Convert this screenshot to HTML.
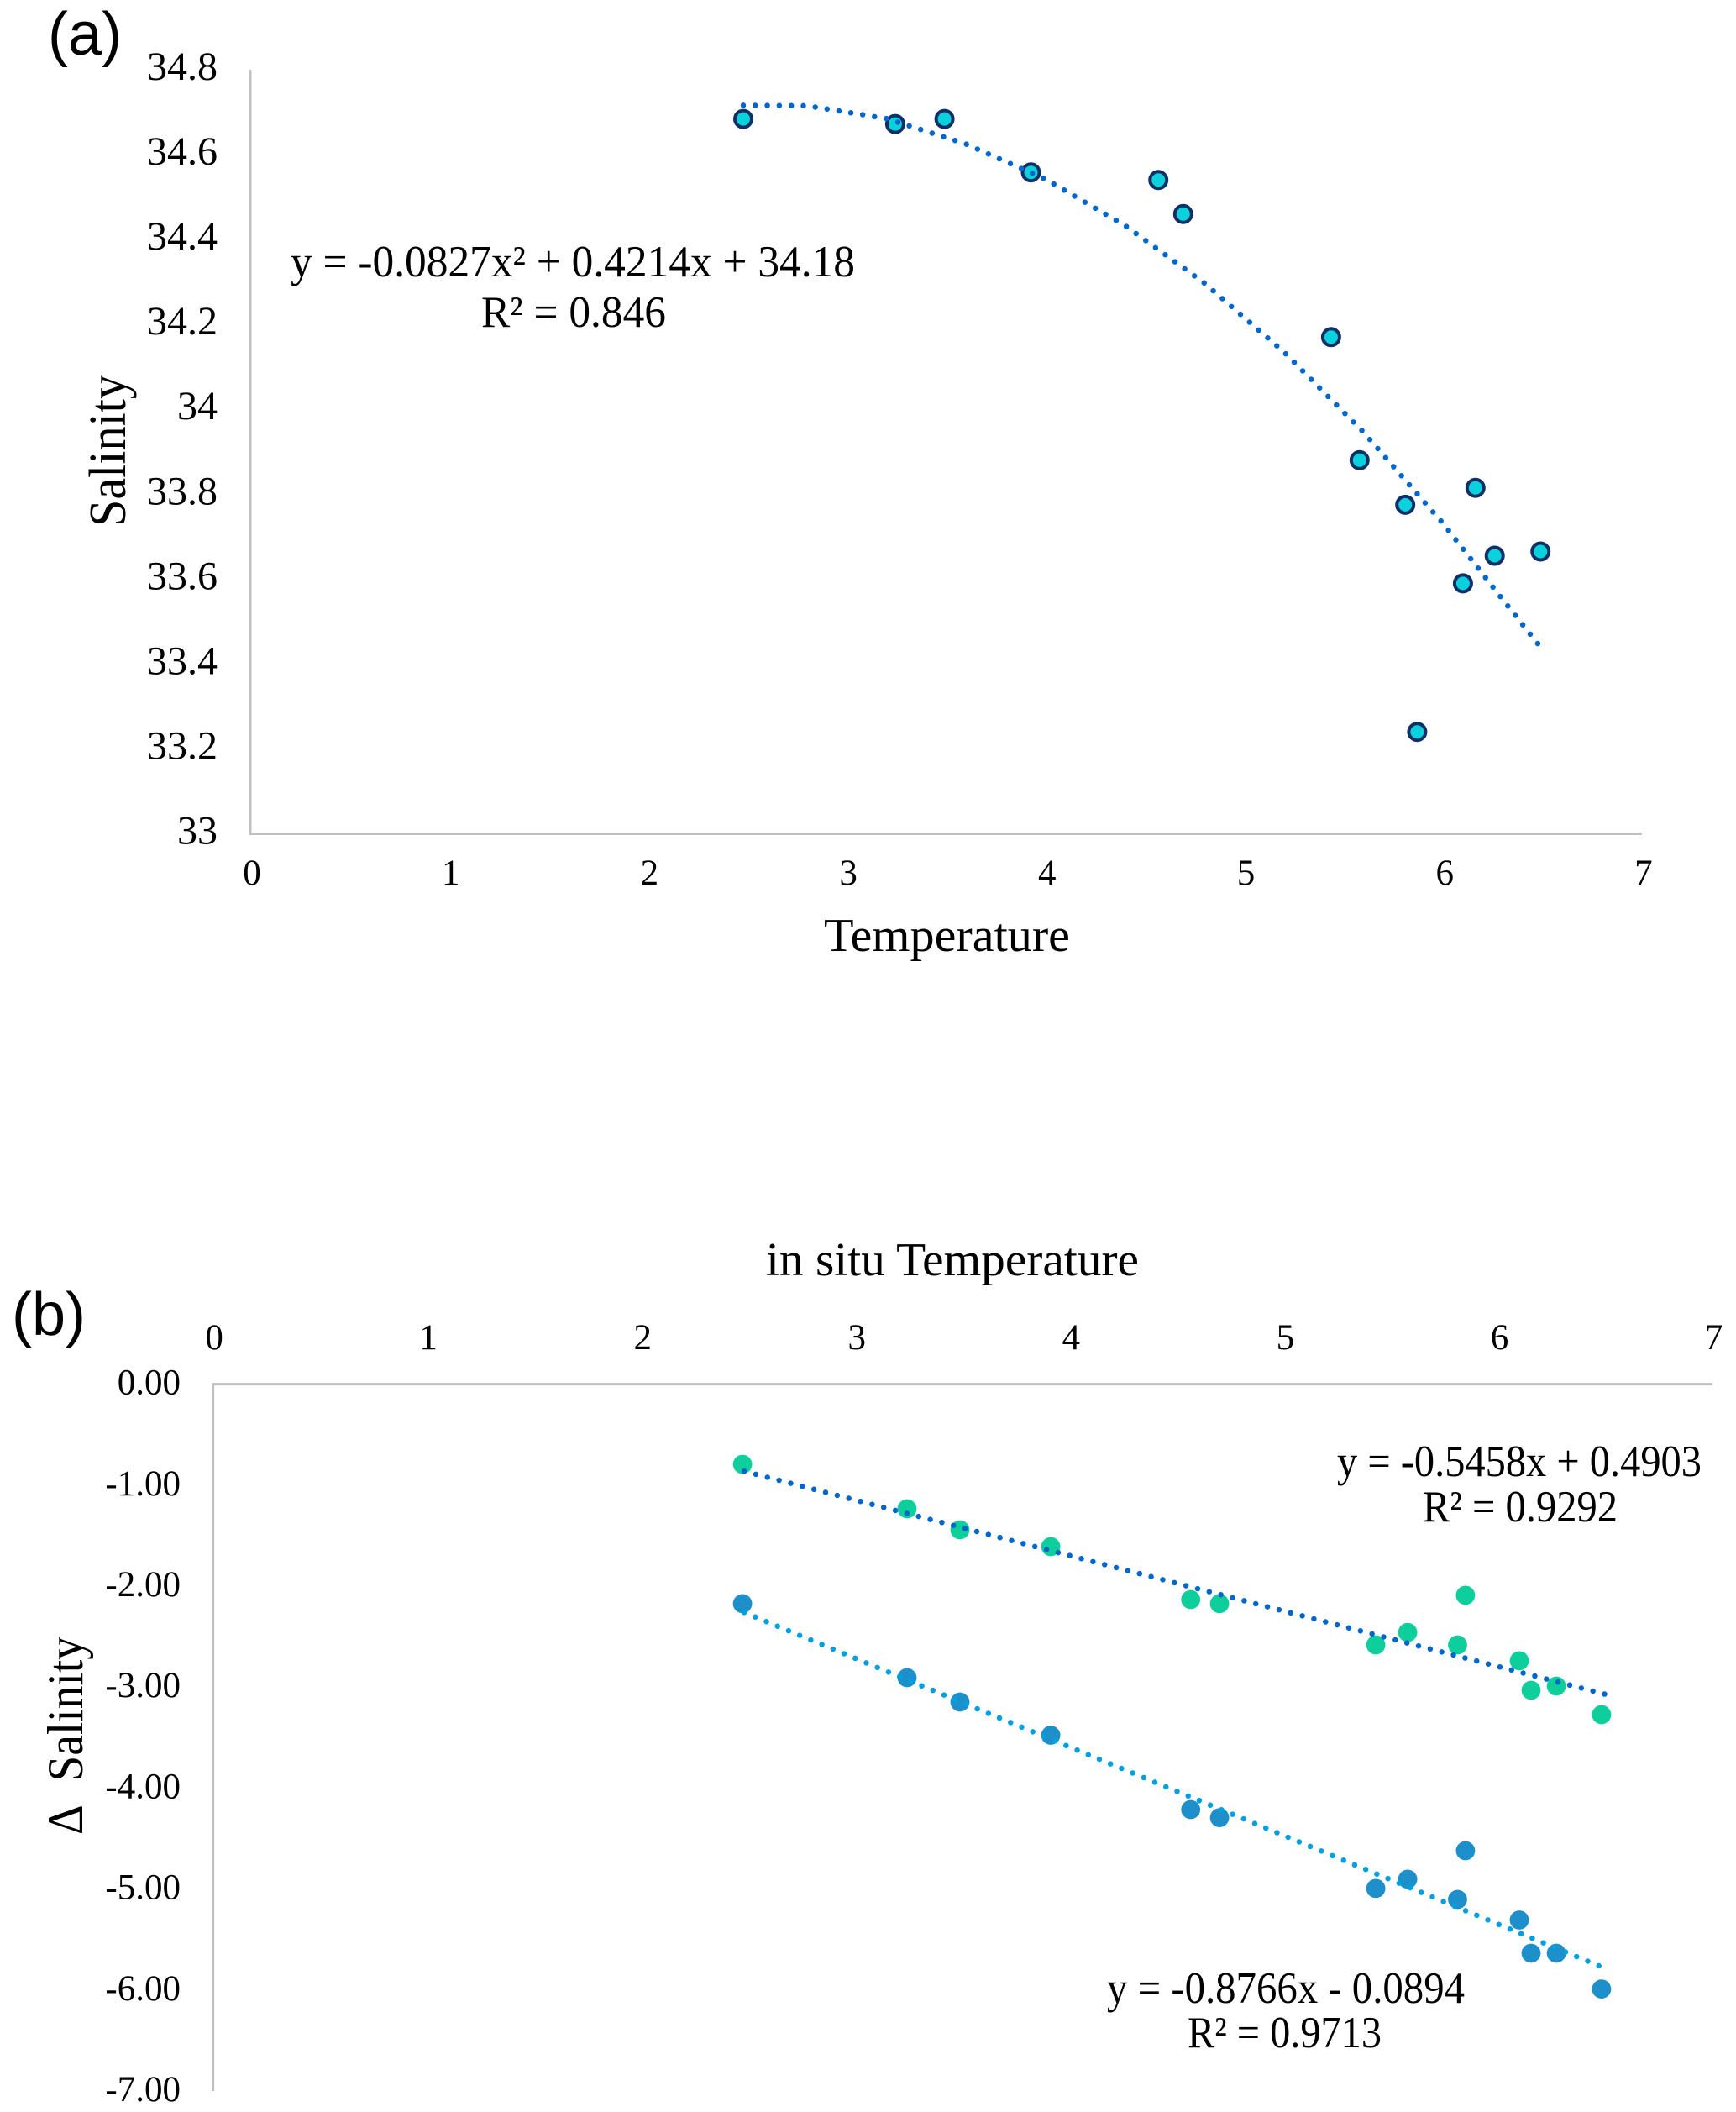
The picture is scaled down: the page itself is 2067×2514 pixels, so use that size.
<!DOCTYPE html>
<html lang="en">
<head>
<meta charset="utf-8">
<title>Salinity versus temperature charts</title>
<style>
html,body{margin:0;padding:0;background:#fff;width:2067px;height:2514px;overflow:hidden}
svg{display:block}
text{font-family:"Liberation Serif",serif;fill:#000}
.panel{font-family:"Liberation Sans",sans-serif;font-size:72px}
.eq{font-size:53px}
.title{font-size:56px}
</style>
</head>
<body>
<svg id="figure" xmlns="http://www.w3.org/2000/svg" width="2067" height="2514" viewBox="0 0 2067 2514">
  <rect x="0" y="0" width="2067" height="2514" fill="#ffffff"/>

  <g id="chart-a">
    <text class="panel" x="57" y="65">(a)</text>
    <text class="title" x="981" y="1132" textLength="293" lengthAdjust="spacingAndGlyphs">Temperature</text>
    <text transform="translate(149 627) rotate(-90)" x="0" y="0" font-size="62" textLength="181" lengthAdjust="spacingAndGlyphs">Salinity</text>
    <text class="eq" x="346" y="329" textLength="672" lengthAdjust="spacingAndGlyphs">y = -0.0827x² + 0.4214x + 34.18</text>
    <text class="eq" x="573" y="389" textLength="220" lengthAdjust="spacingAndGlyphs">R² = 0.846</text>
  </g>

  <g id="chart-b">
    <text class="panel" x="14" y="1589">(b)</text>
    <text class="title" x="912" y="1518" textLength="444" lengthAdjust="spacingAndGlyphs">in situ Temperature</text>
    <text transform="translate(98 2184) rotate(-90)" x="0" y="0" font-size="60" textLength="236" lengthAdjust="spacingAndGlyphs">Δ&#160;&#160;Salinity</text>
    <text class="eq" x="1592" y="1757" textLength="434" lengthAdjust="spacingAndGlyphs">y = -0.5458x + 0.4903</text>
    <text class="eq" x="1694" y="1811" textLength="232" lengthAdjust="spacingAndGlyphs">R² = 0.9292</text>
    <text class="eq" x="1318" y="2384" textLength="426" lengthAdjust="spacingAndGlyphs">y = -0.8766x - 0.0894</text>
    <text class="eq" x="1414" y="2437" textLength="231" lengthAdjust="spacingAndGlyphs">R² = 0.9713</text>
  </g>
</svg>

<script>
// Chart (a) data
var xTickLabelsA = ['0','1','2','3','4','5','6','7'];
var yTickLabelsA = ['34.8','34.6','34.4','34.2','34','33.8','33.6','33.4','33.2','33'];
var temperatureA = [2.48,3.244,3.492,3.927,4.568,4.693,5.437,5.58,5.81,6.163,6.26,6.1,6.49,5.87];
var salinityA = [34.684,34.672,34.684,34.558,34.54,34.46,34.17,33.88,33.775,33.815,33.655,33.59,33.665,33.24];
var trendTemperatureA = [2.48,2.8,3.2,3.6,4.0,4.4,4.8,5.2,5.6,6.0,6.3,6.49];
var trendSalinityA = [34.716,34.715,34.685,34.625,34.542,34.433,34.297,34.135,33.946,33.731,33.552,33.44];

// Chart (b) data
var xTickLabelsB = ['0','1','2','3','4','5','6','7'];
var yTickLabelsB = ['0.00','-1.00','-2.00','-3.00','-4.00','-5.00','-6.00','-7.00'];
var temperatureB = [2.472,3.24,3.487,3.911,4.564,4.699,5.428,5.577,5.847,5.81,6.098,6.153,6.271,6.482];
var deltaUpperB = [-0.794,-1.235,-1.443,-1.609,-2.133,-2.174,-2.582,-2.458,-2.091,-2.582,-2.74,-3.032,-2.99,-3.273];
var deltaLowerB = [-2.174,-2.907,-3.148,-3.477,-4.213,-4.293,-4.994,-4.903,-4.621,-5.103,-5.307,-5.636,-5.636,-5.99];
var trendTemperatureUpperB = [2.48,6.497];
var trendDeltaUpperB = [-0.863,-3.07];
var trendTemperatureLowerB = [2.48,6.47];
var trendDeltaLowerB = [-2.26,-5.76];

var NS = 'http://www.w3.org/2000/svg';

function xScaleA(v){ return 298 + v * 236.7; }
function yScaleA(v){ return 992.5 - (v - 33) * 505.3; }
function xScaleB(v){ return 253.6 + v * 255.06; }
function yScaleB(v){ return 1647.6 - v * 120.2; }

function make(tag, parent){
  var el = document.createElementNS(NS, tag);
  parent.appendChild(el);
  return el;
}

function axisLine(parent, x1, y1, x2, y2, name){
  var el = make('line', parent);
  el.setAttribute('x1', x1);
  el.setAttribute('y1', y1);
  el.setAttribute('x2', x2);
  el.setAttribute('y2', y2);
  el.setAttribute('stroke', '#bfbfbf');
  el.setAttribute('stroke-width', '3');
  
  
}

function tickText(parent, x, y, label, size, anchor, name){
  var el = make('text', parent);
  el.setAttribute('x', x);
  el.setAttribute('y', y);
  el.setAttribute('font-size', size);
  el.setAttribute('text-anchor', anchor);
  el.textContent = label;
  
  
}

function trend(parent, xs, ys, sx, sy, color, name){
  var pts = [];
  for (var i = 0; i < xs.length; i++) { pts.push(sx(xs[i]).toFixed(1) + ',' + sy(ys[i]).toFixed(1)); }
  var el = make('polyline', parent);
  el.setAttribute('points', pts.join(' '));
  el.setAttribute('fill', 'none');
  el.setAttribute('stroke', color);
  el.setAttribute('stroke-width', '6.5');
  el.setAttribute('stroke-linecap', 'round');
  el.setAttribute('stroke-linejoin', 'round');
  el.setAttribute('stroke-dasharray', '0 14.3');
  
  
}

function points(parent, xs, ys, sx, sy, r, fill, stroke, sw, name){
  for (var i = 0; i < xs.length; i++) {
    var el = make('circle', parent);
    el.setAttribute('cx', sx(xs[i]).toFixed(1));
    el.setAttribute('cy', sy(ys[i]).toFixed(1));
    el.setAttribute('r', r);
    el.setAttribute('fill', fill);
    if (stroke) {
      el.setAttribute('stroke', stroke);
      el.setAttribute('stroke-width', sw);
    }
    
    
  }
}

var chartA = document.getElementById('chart-a');
var chartB = document.getElementById('chart-b');

// Chart (a)
axisLine(chartA, xScaleA(0), yScaleA(34.8), xScaleA(0), yScaleA(33) + 1.5, 'y-axis-line-a');
axisLine(chartA, xScaleA(0), yScaleA(33), xScaleA(7), yScaleA(33), 'x-axis-line-a');
xTickLabelsA.forEach(function(label){
  tickText(chartA, xScaleA(parseFloat(label)) + 2, 1053, label, 43, 'middle', 'x-tick-label-a');
});
yTickLabelsA.forEach(function(label){
  tickText(chartA, 259, yScaleA(parseFloat(label)) + 12, label, 48, 'end', 'y-tick-label-a');
});
points(chartA, temperatureA, salinityA, xScaleA, yScaleA, 10, '#0ad2dc', '#0f2f66', 4, 'salinity-point');
trend(chartA, trendTemperatureA, trendSalinityA, xScaleA, yScaleA, '#0066cc', 'salinity-trendline');

// Chart (b)
axisLine(chartB, xScaleB(0), yScaleB(0), xScaleB(0), yScaleB(-7), 'y-axis-line-b');
axisLine(chartB, xScaleB(0) - 1.5, yScaleB(0), xScaleB(7), yScaleB(0), 'x-axis-line-b');
xTickLabelsB.forEach(function(label){
  tickText(chartB, xScaleB(parseFloat(label)) + 1.5, 1606, label, 43, 'middle', 'x-tick-label-b');
});
yTickLabelsB.forEach(function(label){
  tickText(chartB, 215, yScaleB(parseFloat(label)) + 12, label, 43, 'end', 'y-tick-label-b');
});
points(chartB, temperatureB, deltaUpperB, xScaleB, yScaleB, 11.4, '#0ecf9b', null, 0, 'delta-salinity-upper-point');
points(chartB, temperatureB, deltaLowerB, xScaleB, yScaleB, 11.4, '#1d8fca', null, 0, 'delta-salinity-lower-point');
trend(chartB, trendTemperatureUpperB, trendDeltaUpperB, xScaleB, yScaleB, '#0066cc', 'delta-salinity-upper-trendline');
trend(chartB, trendTemperatureLowerB, trendDeltaLowerB, xScaleB, yScaleB, '#009fe0', 'delta-salinity-lower-trendline');
</script>
</body>
</html>
